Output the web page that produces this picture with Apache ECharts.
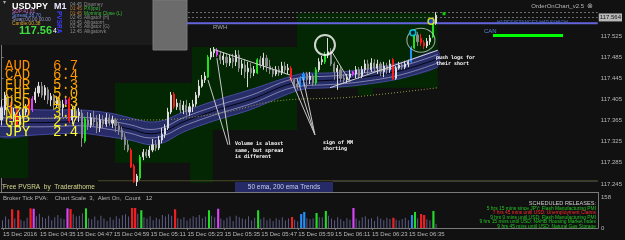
<!DOCTYPE html>
<html>
<head>
<meta charset="utf-8">
<script src="https://cdn.jsdelivr.net/npm/echarts@6.0.0/dist/echarts.min.js"></script>
<style>
html,body{margin:0;padding:0;background:#111111;overflow:hidden;}
#chart{width:625px;height:240px;}
</style>
</head>
<body>
<div id="chart"></div>
<script>
// ================= DATA =================
const tickLabels = ["15 Dec 2016","15 Dec 04:35","15 Dec 04:47","15 Dec 04:59","15 Dec 05:11","15 Dec 05:23",
  "15 Dec 05:35","15 Dec 05:47","15 Dec 05:59","15 Dec 06:11","15 Dec 06:23","15 Dec 06:35"];
const barsPerTick = 12;
const slotCount = 194;          // bar slots shown, including the empty chart shift on the right

const open = [
117.366,117.385,117.410,117.396,117.372,117.385,117.358,117.375,117.381,117.404,
117.385,117.404,117.417,117.430,117.413,117.423,117.404,117.410,117.394,117.402,
117.389,117.396,117.406,117.366,117.383,117.374,117.379,117.326,117.366,117.356,
117.370,117.362,117.351,117.366,117.358,117.370,117.360,117.366,117.355,117.347,
117.334,117.319,117.309,117.279,117.249,117.256,117.296,117.305,117.298,117.309,
117.319,117.313,117.328,117.339,117.351,117.381,117.415,117.391,117.398,117.385,
117.394,117.381,117.391,117.396,117.413,117.430,117.442,117.447,117.485,117.493,
117.498,117.489,117.480,117.485,117.474,117.483,117.476,117.489,117.464,117.470,
117.457,117.464,117.455,117.455,117.480,117.470,117.483,117.468,117.461,117.453,
117.461,117.455,117.468,117.461,117.464,117.442,117.434,117.432,117.442,117.453,
117.442,117.449,117.436,117.461,117.476,117.476,117.489,117.495,117.472,117.457,
117.461,117.445,117.442,117.447,117.457,117.453,117.461,117.449,117.461,117.472,
117.461,117.474,117.464,117.472,117.457,117.468,117.461,117.480,117.445,117.464,
117.470,117.466,117.472,117.476,117.502,117.527,117.521,117.512,117.506,117.514,
117.523,117.549];
const close = [
117.389,117.413,117.394,117.370,117.381,117.356,117.375,117.381,117.389,117.379,
117.406,117.419,117.430,117.413,117.427,117.404,117.411,117.394,117.404,117.389,
117.396,117.404,117.364,117.385,117.374,117.381,117.332,117.368,117.356,117.370,
117.362,117.351,117.366,117.358,117.370,117.360,117.366,117.355,117.347,117.334,
117.319,117.309,117.277,117.249,117.260,117.296,117.305,117.298,117.309,117.319,
117.313,117.328,117.339,117.351,117.381,117.413,117.391,117.398,117.385,117.394,
117.381,117.391,117.396,117.413,117.430,117.442,117.449,117.485,117.495,117.500,
117.489,117.480,117.487,117.474,117.483,117.476,117.489,117.464,117.472,117.457,
117.464,117.455,117.461,117.480,117.470,117.483,117.468,117.461,117.453,117.461,
117.455,117.468,117.461,117.464,117.442,117.434,117.430,117.445,117.453,117.442,
117.449,117.436,117.461,117.476,117.480,117.489,117.495,117.472,117.457,117.464,
117.445,117.442,117.447,117.453,117.453,117.461,117.449,117.461,117.472,117.461,
117.474,117.464,117.472,117.457,117.468,117.461,117.472,117.444,117.464,117.470,
117.466,117.472,117.476,117.502,117.529,117.514,117.512,117.506,117.515,117.521,
117.549,117.564];
const high = [
117.404,117.419,117.415,117.400,117.389,117.389,117.381,117.387,117.396,117.408,
117.411,117.427,117.438,117.438,117.432,117.428,117.417,117.415,117.411,117.408,
117.404,117.410,117.410,117.392,117.396,117.389,117.385,117.372,117.381,117.379,
117.383,117.375,117.377,117.375,117.379,117.377,117.374,117.370,117.362,117.353,
117.341,117.328,117.313,117.283,117.264,117.300,117.311,117.311,117.317,117.330,
117.328,117.336,117.351,117.358,117.389,117.419,117.419,117.406,117.404,117.402,
117.404,117.398,117.404,117.419,117.442,117.451,117.457,117.489,117.502,117.504,
117.502,117.495,117.493,117.491,117.489,117.491,117.498,117.498,117.480,117.480,
117.476,117.474,117.468,117.483,117.487,117.493,117.489,117.480,117.466,117.468,
117.468,117.476,117.476,117.472,117.468,117.445,117.442,117.449,117.457,117.457,
117.457,117.453,117.466,117.483,117.487,117.495,117.521,117.502,117.476,117.470,
117.468,117.453,117.453,117.461,117.459,117.468,117.466,117.468,117.480,117.480,
117.483,117.481,117.480,117.476,117.476,117.474,117.480,117.483,117.468,117.476,
117.476,117.478,117.480,117.506,117.532,117.532,117.529,117.517,117.521,117.527,
117.555,117.570];
const low = [
117.356,117.375,117.385,117.366,117.362,117.351,117.353,117.370,117.374,117.375,
117.381,117.398,117.410,117.408,117.404,117.396,117.392,117.385,117.389,117.377,
117.372,117.392,117.360,117.358,117.366,117.362,117.315,117.322,117.347,117.351,
117.355,117.341,117.343,117.351,117.353,117.355,117.351,117.343,117.338,117.328,
117.309,117.305,117.275,117.247,117.241,117.252,117.290,117.294,117.294,117.305,
117.307,117.309,117.322,117.332,117.347,117.377,117.387,117.385,117.379,117.377,
117.375,117.374,117.381,117.391,117.408,117.427,117.436,117.445,117.480,117.485,
117.485,117.472,117.470,117.466,117.468,117.464,117.468,117.457,117.451,117.445,
117.428,117.445,117.449,117.453,117.464,117.461,117.457,117.453,117.447,117.449,
117.449,117.451,117.455,117.453,117.440,117.427,117.423,117.428,117.430,117.427,
117.434,117.430,117.432,117.457,117.470,117.472,117.483,117.468,117.442,117.423,
117.438,117.434,117.436,117.442,117.449,117.445,117.444,117.445,117.455,117.453,
117.457,117.457,117.453,117.449,117.447,117.453,117.455,117.442,117.442,117.461,
117.461,117.462,117.466,117.474,117.500,117.506,117.506,117.500,117.502,117.508,
117.521,117.546];

const tickVolume = [
40,58,45,95,48,90,42,36,52,100, 98,60,72,55,48,62,40,55,66,50,
45,100,97,70,58,62,75,100,50,44, 58,40,62,48,36,55,42,60,48,65,
70,58,102,102,72,90,55,48,60,40, 52,45,66,58,70,62,95,50,44,55,
38,48,60,55,66,50,58,90,62,55, 98,48,40,52,58,36,62,55,48,44,
60,38,52,90,45,55,40,48,36,50, 42,55,38,48,56,42,35,71,82,50,
44,50,76,55,55,87,62,48,40,55, 44,36,50,42,102,48,38,55,60,44,
50,36,58,48,40,52,46,52,42,38, 46,52,40,66,82,50,71,66,44,40,
87,20];

// PVSRA bar classes (bar indices)
const climaxBear = [3,5,9,22,42,43,56,94,127,136,137];
const climaxBull = [27,45,67,83,102,105,134,140];
const aboveAvgBull = [97,98,133];
const aboveAvgBear = [10,21,70,114];

// 50 EMA envelope and inner EMAs (bar index, price)
const emaIdx      = [-0.5,12.5,25.5,35.2,41.7,48.2,53,58.9,69.9,80.6,96.9,106.6,116.3,129.3,141.6];
const bandUpper   = [117.391,117.385,117.385,117.379,117.370,117.362,117.366,117.381,117.404,117.423,117.453,117.455,117.461,117.474,117.498];
const bandLower   = [117.334,117.338,117.341,117.334,117.328,117.319,117.324,117.343,117.366,117.385,117.423,117.427,117.432,117.444,117.466];
const emaMid      = [117.362,117.361,117.363,117.356,117.349,117.340,117.345,117.362,117.385,117.404,117.438,117.441,117.446,117.459,117.482];
const emaInnerHi  = [117.370,117.369,117.371,117.364,117.357,117.348,117.353,117.370,117.393,117.412,117.446,117.449,117.454,117.467,117.490];
const emaInnerLo  = [117.354,117.353,117.355,117.348,117.341,117.332,117.337,117.354,117.377,117.396,117.430,117.433,117.438,117.451,117.474];
// 200 EMA
const ema200Idx = [-0.5,32,48.2,70.9,89.4,113.1,141.6];
const ema200    = [117.370,117.368,117.366,117.379,117.402,117.409,117.427];

// supply / demand zones: [fromBar, toBar, priceTop, priceBottom]
const zones = [
  [-0.5,8.6,117.351,117.256],
  [36.8,61.8,117.436,117.285],
  [61.8,95.9,117.504,117.347],
  [61.2,68.6,117.347,117.247],
  [95.9,141.6,117.568,117.427],
  [115.7,120.5,117.427,117.413]
];
// drawn trend lines and annotation pointers: [bar0, price0, bar1, price1]
const trendLines = [[68.6,117.500,93.6,117.451],[106.6,117.427,141.6,117.498]];
const pointerLines = [
  [67.0,117.442,73.5,117.319],[69.9,117.483,74.1,117.319],
  [93.6,117.447,101.7,117.338],[95.9,117.445,101.7,117.338],[97.8,117.447,101.7,117.338],
  [107.2,117.495,113.1,117.438]
];
// horizontal levels
const rwhLevel = 117.549, rwhFrom = 60.2;
const dayLowLevel = 117.251, dayLowFrom = 31.3;
const bidPrice = 117.564, askPrice = 117.569;
// marked points [bar, price]
const ringWhite = [104.96,117.508];
const ringGrey = [136.1,117.517];
const dotCyan = [133.5,117.531];
const dotYellow = [139.4,117.553];
const dotGreen = [143.6,117.567];

// currency strength meter
const currencies = ["AUD","CAD","EUR","CHF","USD","NZD","GBP","JPY"];
const strengths  = [6.7,6.4,5.3,5.0,4.3,3.1,2.7,2.4];

const priceTicks = [117.245,117.285,117.325,117.365,117.405,117.445,117.485,117.525];
const volTicks = [0,158];
const releases = [
  ["5 hrs 15 mins since JPY: Flash Manufacturing PMI","#22c522"],
  ["7 hrs 45 mins until USD: Unemployment Claims","#ff2a2a"],
  ["9 hrs 0 mins until USD: Flash Manufacturing PMI","#22c522"],
  ["9 hrs 15 mins until USD: NAHB Housing Market Index","#22c522"],
  ["9 hrs 45 mins until USD: Natural Gas Storage","#22c522"]
];

// ================= CHART =================
const COL = {bear:'#ff1a1a', bull:'#1fe01f', blue:'#1e90ff', mag:'#e040fb'};
function barClass(i){
  if (climaxBear.includes(i)) return COL.bear;
  if (climaxBull.includes(i)) return COL.bull;
  if (aboveAvgBull.includes(i)) return COL.blue;
  if (aboveAvgBear.includes(i)) return COL.mag;
  return null;
}
const slots = Array.from({length: slotCount}, (_, i) => String(i));
const candleData = open.map((o, i) => {
  const c = barClass(i);
  const item = {value: [o, close[i], low[i], high[i]]};
  if (c) item.itemStyle = {color: c, color0: c, borderColor: c, borderColor0: c};
  return item;
});
const volBase = tickVolume.map(v => v);
const volColored = tickVolume.map((v, i) => {
  const c = barClass(i);
  return c ? {value: v, itemStyle: {color: c}} : '-';
});

function segSeries(data, color, width, z, dash){
  return {
    type:'custom', xAxisIndex:1, yAxisIndex:0, z:z, silent:true, clip:true,
    encode:{x:[0,2], y:[1,3]}, data:data,
    renderItem:function(params, api){
      const a = api.coord([api.value(0), api.value(1)]);
      const b = api.coord([api.value(2), api.value(3)]);
      return {type:'line', shape:{x1:a[0],y1:a[1],x2:b[0],y2:b[1]},
        style:{stroke:color, lineWidth:width, lineDash: dash || null}};
    }
  };
}
function lineSeries(idx, vals, color, width, z, type){
  return {type:'line', xAxisIndex:1, yAxisIndex:0, z:z, silent:true, symbol:'none', smooth:0.4,
    data: idx.map((x,k)=>[x, vals[k]]), lineStyle:{color:color, width:width, type:type||'solid'}};
}
function T(x, y, text, fill, size, o){
  o = o || {};
  return {type:'text', z:100, silent:true, x:x, y:y, rotation:o.rot||0,
    style:{text:text, fill:fill, fontSize:size, fontFamily:o.family||'"Liberation Sans", Arial, sans-serif',
      fontWeight:o.bold?'bold':'normal', textAlign:o.align||'left', textVerticalAlign:o.va||'middle'}};
}
function R(x, y, w, h, fill, stroke){
  return {type:'rect', z:99, silent:true, shape:{x:x,y:y,width:w,height:h}, style:{fill:fill, stroke:stroke||null, lineWidth:1}};
}
function L(x1, y1, x2, y2, color){
  return {type:'line', z:99, silent:true, shape:{x1:x1,y1:y1,x2:x2,y2:y2}, style:{stroke:color, lineWidth:1}};
}

const graphics = [];
// top-left info panel
graphics.push(R(0,0,153,45,'#1b1b1b'));
graphics.push(R(153,0,34,50,'#6b6b6b','#7a7a7a'));
graphics.push(T(3,2,'▾','#aaaaaa',6));
graphics.push(T(12,6.5,'USDJPY','#ffffff',9,{bold:true}));
graphics.push(T(54,6.5,'M1','#e8e8ff',9,{bold:true}));
graphics.push(T(58.5,11,'PVSRA','#3c3cff',6.5,{rot:-Math.PI/2, bold:true}));
graphics.push(T(12,11.5,'SDP:41.01','#d070d0',4.8));
graphics.push(T(12,15.5,'Spread:38.70','#7090ff',4.8));
graphics.push(T(12,19.5,'Swap:00.00 00.00','#9898c8',4.8));
graphics.push(T(12,23.5,'Candle:00.38','#d8a830',4.8));
graphics.push(T(19,30.5,'117.56','#3fdc3f',11,{bold:true}));
graphics.push(T(53,31,'4','#ffffff',7));
const sessions = [["04:45","Disarney","#8a8a8a","#8a8a8a"],["01:45","PX(ipo)","#c08040","#3fbf3f"],
  ["01:45","Morning Close (L)","#c08040","#3fbf3f"],["02:45","Alligator (H)","#8a8a8a","#8a8a8a"],
  ["03:45","Alligatorrt","#8a8a8a","#8a8a8a"],["02:45","Alligator (G)","#8a8a8a","#8a8a8a"],["12:45","Alligatorvk","#8a8a8a","#8a8a8a"]];
sessions.forEach((s,k)=>{
  graphics.push(T(70,4.5+k*4.5,s[0],s[2],4.8));
  graphics.push(T(84,4.5+k*4.5,s[1],s[3],4.8));
});
// top right labels
graphics.push(T(584,6.5,'OrderOnChart_v2.5','#b8b8b8',6,{align:'right'}));
graphics.push(T(590,6.5,'⊗','#b8b8b8',7,{align:'center'}));
graphics.push(T(213,27.5,'RWH','#a8a8a8',6));
graphics.push(T(497,22.5,'H1RESISTANCE3 H4DAYHIGH','#4e6fc0',5));
graphics.push(T(484,31,'CAN','#5b86d6',6));
graphics.push(R(493,34,70,3,'#00ff00'));
// currency strength
const curColors = ['#ff8c00','#ff9900','#ffa200','#ffb400','#ffc400','#f0d800','#ffee22','#ffff33'];
currencies.forEach((c,k)=>{
  const y = 66 + k*9.4;
  graphics.push(T(5,y,c,curColors[k],14,{family:'"Liberation Mono", monospace'}));
  graphics.push(T(53,y,strengths[k].toFixed(1),curColors[k],14,{family:'"Liberation Mono", monospace'}));
});
// annotations
const mono = {family:'"DejaVu Sans Mono", monospace', bold:true};
graphics.push(T(235,144,'Volume is almost','#ffffff',5,mono));
graphics.push(T(235,150.5,'same, but spread','#ffffff',5,mono));
graphics.push(T(235,157,'is different','#ffffff',5,mono));
graphics.push(T(323,143,'sign of MM','#ffffff',5,mono));
graphics.push(T(323,149,'shorting','#ffffff',5,mono));
graphics.push(T(436,57.5,'push logs for','#ffffff',5,mono));
graphics.push(T(436,63.5,'their short','#ffffff',5,mono));
// bottom of main window
graphics.push(L(333,181.5,598,181.5,'#3a3a3a'));
graphics.push(T(3,187.3,'Free PVSRA  by  Traderathome','#d8d890',6.5));
graphics.push(R(235,182,98,10,'#262a66'));
graphics.push(T(284,187,'50 ema, 200 ema Trends','#c8cce8',6.5,{align:'center'}));
graphics.push(L(0,192.5,598,192.5,'#7a7a7a'));
graphics.push(L(598.5,192,598.5,197,'#7a7a7a'));
// sub window
graphics.push(T(3,198,'Broker Tick PVA:    Chart Scale  3,  Alert On,  Count   12','#b4b4b4',6));
graphics.push(T(596,203.5,'SCHEDULED RELEASES:','#d0d0d0',5.6,{align:'right'}));
releases.forEach((r,k)=>graphics.push(T(596,208.3+k*4.6,r[0],r[1],4.9,{align:'right'})));

const option = {
  animation:false,
  backgroundColor:'#111111',
  grid:[
    {left:0, top:0, width:598, height:192},
    {left:0, top:197, width:598, height:31}
  ],
  xAxis:[
    {type:'category', gridIndex:0, data:slots, boundaryGap:true, show:false},
    {type:'value', gridIndex:0, min:-0.5, max:slotCount-0.5, show:false},
    {type:'category', gridIndex:1, data:slots, boundaryGap:true,
      axisLine:{show:true, lineStyle:{color:'#7a7a7a'}},
      axisTick:{show:true, length:2, alignWithLabel:true, lineStyle:{color:'#7a7a7a'},
        interval:(i)=> i % barsPerTick === 0 && i/barsPerTick < tickLabels.length},
      axisLabel:{show:true, color:'#b8b8b8', fontSize:6, fontFamily:'"Liberation Sans", Arial, sans-serif',
        align:'left', margin:3,
        interval:(i)=> i % barsPerTick === 0 && i/barsPerTick < tickLabels.length,
        formatter:(v, i)=> tickLabels[Math.round(Number(v)/barsPerTick)] || ''},
      splitLine:{show:false}}
  ],
  yAxis:[
    {type:'value', gridIndex:0, position:'right', min:117.2297, max:117.593,
      axisLine:{show:true, lineStyle:{color:'#7a7a7a'}},
      axisTick:{show:true, length:2, lineStyle:{color:'#7a7a7a'}, customValues:priceTicks},
      axisLabel:{show:true, color:'#b8b8b8', fontSize:6, margin:3, customValues:priceTicks,
        fontFamily:'"Liberation Sans", Arial, sans-serif', formatter:(v)=>v.toFixed(3)},
      splitLine:{show:false}},
    {type:'value', gridIndex:1, position:'right', min:0, max:158,
      axisLine:{show:true, lineStyle:{color:'#7a7a7a'}},
      axisTick:{show:false},
      axisLabel:{show:true, color:'#b8b8b8', fontSize:6, margin:3, customValues:volTicks,
        fontFamily:'"Liberation Sans", Arial, sans-serif', formatter:(v)=>String(v)},
      splitLine:{show:false}}
  ],
  series:[
    { type:'custom', xAxisIndex:1, yAxisIndex:0, z:1, silent:true, clip:true,
      encode:{x:[0,1], y:[2,3]}, data:zones,
      renderItem:function(params, api){
        const a = api.coord([api.value(0), api.value(2)]);
        const b = api.coord([api.value(1), api.value(3)]);
        return {type:'rect', shape:{x:a[0], y:a[1], width:b[0]-a[0], height:b[1]-a[1]}, style:{fill:'#032703'}};
      }},
    // 50 EMA envelope band drawn as one polygon through the axis scales
    { type:'custom', xAxisIndex:1, yAxisIndex:0, z:2, silent:true, clip:true,
      encode:{x:0, y:[1,2]}, data: emaIdx.map((x,k)=>[x, bandUpper[k], bandLower[k]]),
      renderItem:function(params, api){
        if (params.dataIndex !== 0) return null;
        const up = emaIdx.map((x,k)=>api.coord([x, bandUpper[k]]));
        const lo = emaIdx.map((x,k)=>api.coord([x, bandLower[k]]));
        return {type:'group', children:[
          {type:'polygon', shape:{points: up.concat(lo.slice().reverse()), smooth:0.3},
            style:{fill:'rgba(42,46,112,0.92)', stroke:null}},
          {type:'polyline', shape:{points: up, smooth:0.3}, style:{stroke:'#454a98', lineWidth:1, fill:null}},
          {type:'polyline', shape:{points: lo, smooth:0.3}, style:{stroke:'#454a98', lineWidth:1, fill:null}}
        ]};
      }},
    lineSeries(emaIdx, emaInnerHi, '#a8a8d0', 0.7, 3),
    lineSeries(emaIdx, emaMid, '#050510', 1, 3),
    lineSeries(emaIdx, emaInnerLo, '#a8a8d0', 0.7, 3),
    lineSeries(ema200Idx, ema200, '#9c9c40', 1, 3, [1,2]),
    segSeries([[rwhFrom, rwhLevel, slotCount-0.5, rwhLevel]], '#6464e0', 2, 3),
    segSeries([[dayLowFrom, dayLowLevel, slotCount-0.5, dayLowLevel]], '#4a4a28', 1, 3),
    { type:'candlestick', xAxisIndex:0, yAxisIndex:0, z:5, silent:true, barWidth:1.6,
      data:candleData,
      itemStyle:{color:'#dcdcdc', color0:'#8c8c8c', borderColor:'#dcdcdc', borderColor0:'#8c8c8c', borderWidth:1},
      markLine:{silent:true, symbol:'none', animation:false,
        lineStyle:{color:'#6a6a6a', type:[2,2], width:1},
        data:[
          {yAxis:bidPrice, label:{show:true, position:'end', distance:1, formatter:bidPrice.toFixed(3),
            backgroundColor:'#b8b8b8', color:'#111', fontSize:6, padding:[1,1,1,1]}},
          {yAxis:askPrice, label:{show:false}}
        ]}},
    segSeries(trendLines, '#d0d0d0', 1, 6),
    segSeries(pointerLines, '#c8c8c8', 1, 6),
    { type:'scatter', xAxisIndex:1, yAxisIndex:0, z:7, silent:true,
      data:[
        {value:ringWhite, symbolSize:20, itemStyle:{color:'rgba(0,0,0,0)', borderColor:'#ffffff', borderWidth:2}},
        {value:ringGrey, symbolSize:[28,24], itemStyle:{color:'rgba(0,0,0,0)', borderColor:'#c8c8c8', borderWidth:1}},
        {value:dotCyan, symbolSize:6, itemStyle:{color:'#001a33', borderColor:'#00e5ff', borderWidth:1.5}},
        {value:dotYellow, symbolSize:6, itemStyle:{color:'#2244ff', borderColor:'#ffff00', borderWidth:1.5}},
        {value:dotGreen, symbol:'rect', symbolSize:3, itemStyle:{color:'#00ff00'}}
      ]},
    { type:'bar', xAxisIndex:2, yAxisIndex:1, z:2, silent:true, barWidth:1, barGap:'-100%',
      data:volBase, itemStyle:{color:'#5b5b88'}},
    { type:'bar', xAxisIndex:2, yAxisIndex:1, z:3, silent:true, barWidth:2, barGap:'-100%',
      data:volColored}
  ],
  graphic:{elements:graphics}
};
const chart = echarts.init(document.getElementById('chart'), null, {renderer:'canvas', width:625, height:240});
chart.setOption(option);
</script>
</body>
</html>
